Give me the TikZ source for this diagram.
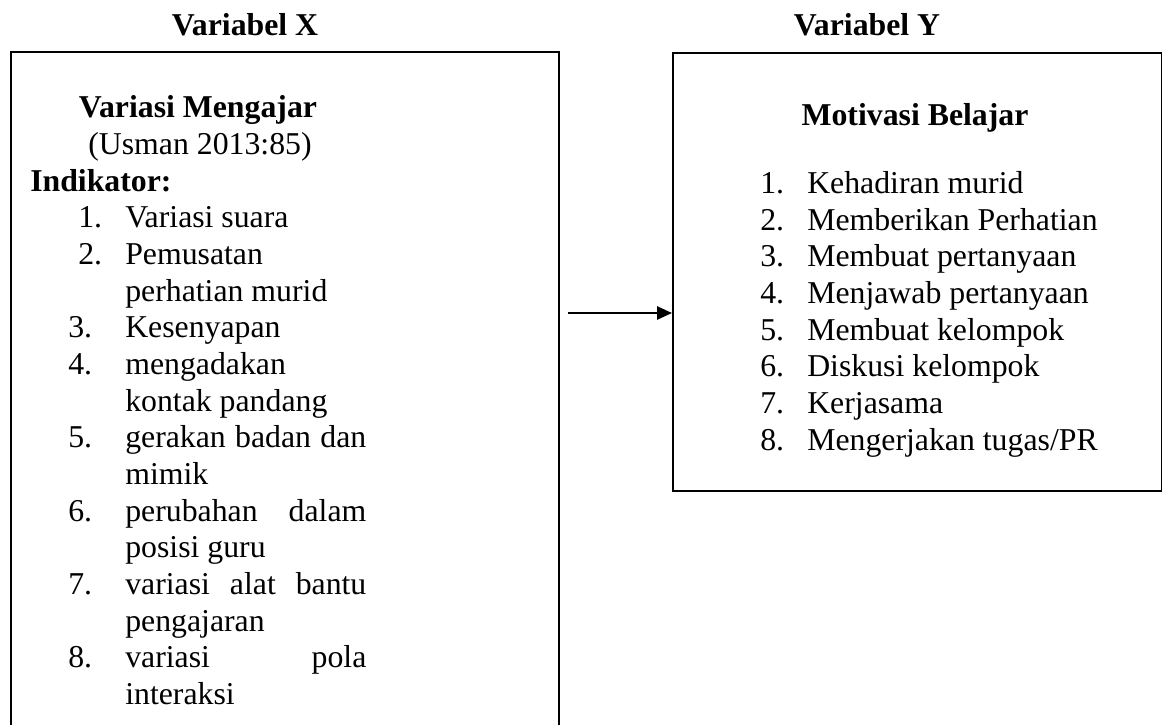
\documentclass[tikz,border=0pt]{standalone}
\usepackage{fontspec}
\setmainfont{Liberation Serif}
\usetikzlibrary{arrows.meta}

\tikzset{
  kotak/.style={draw, line width=1.1pt, inner sep=0pt, anchor=north west},
  baris/.style={anchor=base west, inner sep=0pt, font=\fontsize{22.6}{26}\selectfont},
  judul/.style={anchor=base, inner sep=0pt, font=\fontsize{22.6}{26}\selectfont\bfseries},
  panah/.style={line width=1.4pt, -{Triangle[length=0.375cm, width=0.33cm]}},
}

\begin{document}
\begin{tikzpicture}[x=0.025cm, y=-0.025cm]
  \useasboundingbox (0,0) rectangle (1162,724);
  \clip (0,0) rectangle (1162,724);
  % judul variabel
  \node[judul] (varX) at (245,35) {Variabel X};
  \node[judul] (varY) at (867,35) {Variabel Y};
  % kotak variabel X
  \node[kotak, minimum width=13.7cm, minimum height=17.8cm] (boxX) at (10,51) {};
  \node[judul] (judulX) at (198,117) {Variasi Mengajar};
  \node[baris, anchor=base] (sumber) at (200,154) {(Usman 2013:85)};
  \node[baris, font=\fontsize{22.6}{26}\selectfont\bfseries] (indikator) at (30,191) {Indikator:};
  \node[baris] (x1) at (78,227) {\makebox[1.175cm][l]{1.}Variasi suara};
  \node[baris] (x2) at (78,264) {\makebox[1.175cm][l]{2.}Pemusatan};
  \node[baris] (x2b) at (125,301) {perhatian murid};
  \node[baris] (x3) at (68,337) {\makebox[1.425cm][l]{3.}Kesenyapan};
  \node[baris] (x4) at (68,374) {\makebox[1.425cm][l]{4.}mengadakan};
  \node[baris] (x4b) at (125,411) {kontak pandang};
  \node[baris] (x5) at (68,447) {\makebox[1.425cm][l]{5.}\makebox[6.025cm][s]{gerakan badan dan}};
  \node[baris] (x5b) at (125,484) {mimik};
  \node[baris] (x6) at (68,521) {\makebox[1.425cm][l]{6.}\makebox[6.025cm][s]{perubahan dalam}};
  \node[baris] (x6b) at (125,557) {posisi guru};
  \node[baris] (x7) at (68,594) {\makebox[1.425cm][l]{7.}\makebox[6.025cm][s]{variasi alat bantu}};
  \node[baris] (x7b) at (125,631) {pengajaran};
  \node[baris] (x8) at (68,667) {\makebox[1.425cm][l]{8.}\makebox[6.025cm][s]{variasi pola}};
  \node[baris] (x8b) at (125,704) {interaksi};
  % kotak variabel Y
  \node[kotak, minimum width=12.225cm, minimum height=10.95cm] (boxY) at (672,52) {};
  \node[judul] (judulY) at (915,125) {Motivasi Belajar};
  \node[baris] (y1) at (760,193) {\makebox[1.175cm][l]{1.}Kehadiran murid};
  \node[baris] (y2) at (760,230) {\makebox[1.175cm][l]{2.}Memberikan Perhatian};
  \node[baris] (y3) at (760,266) {\makebox[1.175cm][l]{3.}Membuat pertanyaan};
  \node[baris] (y4) at (760,303) {\makebox[1.175cm][l]{4.}Menjawab pertanyaan};
  \node[baris] (y5) at (760,340) {\makebox[1.175cm][l]{5.}Membuat kelompok};
  \node[baris] (y6) at (760,376) {\makebox[1.175cm][l]{6.}Diskusi kelompok};
  \node[baris] (y7) at (760,413) {\makebox[1.175cm][l]{7.}Kerjasama};
  \node[baris] (y8) at (760,450) {\makebox[1.175cm][l]{8.}Mengerjakan tugas/PR};
  % panah X ke Y
  \coordinate (awal) at (568,313);
  \draw[panah] (awal) -- (awal -| boxY.west);
\end{tikzpicture}
\end{document}
